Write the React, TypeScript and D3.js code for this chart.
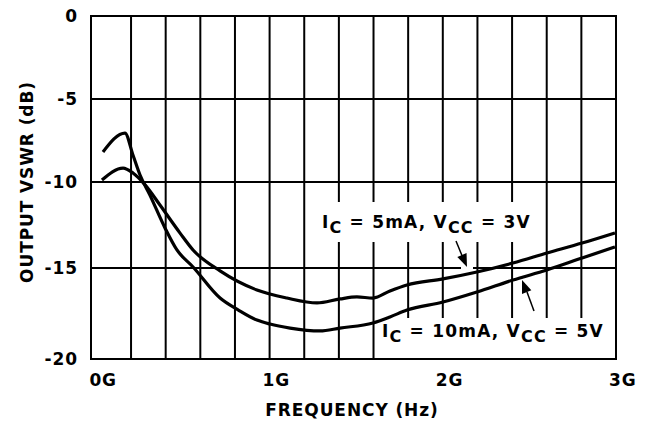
import React from "react";
import * as d3 from "d3";

// Frequency in GHz, VSWR in dB
const freq10mA = [0.038, 0.165, 0.211, 0.252, 0.309, 0.396, 0.465, 0.558, 0.714, 0.82, 0.927, 1.002, 1.118, 1.291, 1.406, 1.597, 1.695, 1.793, 2.001, 2.197, 2.405, 2.601, 2.804, 2.994];
const vswr10mA = [-8.19, -7.05, -8.37, -9.58, -10.76, -12.67, -13.95, -14.94, -16.65, -17.31, -17.86, -18.08, -18.3, -18.46, -18.3, -18.02, -17.69, -17.31, -16.87, -16.32, -15.66, -15.11, -14.42, -13.78];

const freq5mA = [0.032, 0.154, 0.211, 0.281, 0.367, 0.483, 0.558, 0.714, 0.927, 1.1, 1.274, 1.406, 1.504, 1.597, 1.695, 1.793, 2.001, 2.197, 2.405, 2.601, 2.804, 2.994];
const vswr5mA = [-9.88, -9.16, -9.46, -10.17, -11.34, -12.97, -13.95, -15.16, -16.21, -16.65, -16.92, -16.7, -16.59, -16.65, -16.26, -15.93, -15.6, -15.22, -14.71, -14.13, -13.55, -12.96];

const xTickValues = [0, 1, 2, 3];
const xTickLabels = ["0G", "1G", "2G", "3G"];
const xGridValues = [0.2, 0.4, 0.6, 0.8, 1.0, 1.2, 1.4, 1.6, 1.8, 2.0, 2.2, 2.4, 2.6, 2.8];
const yTickValues = [0, -5, -10, -15, -20];
const yTickLabels = ["0", "-5", "-10", "-15", "-20"];
const yGridValues = [-5, -10, -15];

const W = 649;
const H = 422;
const FONT = "'DejaVu Sans', Verdana, sans-serif";

export default function App() {
  const x = d3.scaleLinear().domain([0, 3]).range([96.4, 616]);
  const y = d3.scaleLinear().domain([0, -5, -10, -15, -20]).range([16, 99, 182, 268, 359]);
  const left = 91;
  const right = x(3);
  const top = y(0);
  const bottom = y(-20);

  const line = d3
    .line<[number, number]>()
    .x((d) => x(d[0]))
    .y((d) => y(d[1]))
    .curve(d3.curveMonotoneX);

  const d10 = line(freq10mA.map((f, i) => [f, vswr10mA[i]] as [number, number])) || "";
  const d5 = line(freq5mA.map((f, i) => [f, vswr5mA[i]] as [number, number])) || "";

  const textStyle: React.CSSProperties = {
    fontFamily: FONT,
    fontWeight: "bold",
    fontSize: 17,
    letterSpacing: 0.9,
  };
  const labelStyle: React.CSSProperties = { ...textStyle, letterSpacing: 1.2 };

  const arrowHead = (x1: number, y1: number, x2: number, y2: number) => {
    const ang = Math.atan2(y2 - y1, x2 - x1);
    const len = 13;
    const wid = 5;
    const bx = x2 - len * Math.cos(ang);
    const by = y2 - len * Math.sin(ang);
    const px = -Math.sin(ang) * wid;
    const py = Math.cos(ang) * wid;
    return `M${x2},${y2}L${bx + px},${by + py}L${bx - px},${by - py}Z`;
  };

  return (
    <svg width={W} height={H} style={{ position: "absolute", left: 0, top: 0, background: "#fff" }}>
      <rect x={0} y={0} width={W} height={H} fill="#fff" />
      {xGridValues.map((v) => (
        <line key={"gx" + v} x1={x(v)} x2={x(v)} y1={top} y2={bottom} stroke="#000" strokeWidth={2} />
      ))}
      {yGridValues.map((v) => (
        <line key={"gy" + v} x1={left} x2={right} y1={y(v)} y2={y(v)} stroke="#000" strokeWidth={2} />
      ))}
      <rect x={318} y={202} width={214} height={40} fill="#fff" />
      <rect x={377} y={318} width={right - 377} height={bottom - 318} fill="#fff" />
      <rect x={461} y={264} width={12} height={8} fill="#fff" />
      <rect x={left} y={top} width={right - left} height={bottom - top} fill="none" stroke="#000" strokeWidth={2} />
      <path d={d5} fill="none" stroke="#000" strokeWidth={3.2} strokeLinejoin="round" />
      <path d={d10} fill="none" stroke="#000" strokeWidth={3.2} strokeLinejoin="round" />
      <line x1={456} y1={241} x2={463} y2={258} stroke="#000" strokeWidth={1.5} />
      <path d={arrowHead(456, 241, 467, 267)} fill="#000" />
      <line x1={534} y1={311} x2={527} y2={292} stroke="#000" strokeWidth={1.5} />
      <path d={arrowHead(534, 311, 522, 280)} fill="#000" />
      <text x={322} y={228} style={labelStyle}>
        I<tspan dy={5} fontSize={16}>C</tspan>
        <tspan dy={-5}> = 5mA, V</tspan>
        <tspan dy={5} fontSize={16}>CC</tspan>
        <tspan dy={-5}> = 3V</tspan>
      </text>
      <text x={382} y={337} style={labelStyle}>
        I<tspan dy={5} fontSize={16}>C</tspan>
        <tspan dy={-5}> = 10mA, V</tspan>
        <tspan dy={5} fontSize={16}>CC</tspan>
        <tspan dy={-5}> = 5V</tspan>
      </text>
      {yTickValues.map((v, i) => (
        <text key={"yt" + v} x={78} y={y(v)} dy="0.36em" textAnchor="end" style={textStyle}>
          {yTickLabels[i]}
        </text>
      ))}
      {xTickValues.map((v, i) => (
        <text key={"xt" + v} x={x(v) - 7} y={386} textAnchor="start" style={textStyle}>
          {xTickLabels[i]}
        </text>
      ))}
      <text x={352} y={416} textAnchor="middle" style={textStyle}>
        FREQUENCY (Hz)
      </text>
      <text transform={`translate(33,182) rotate(-90)`} textAnchor="middle" style={textStyle}>
        OUTPUT VSWR (dB)
      </text>
    </svg>
  );
}
